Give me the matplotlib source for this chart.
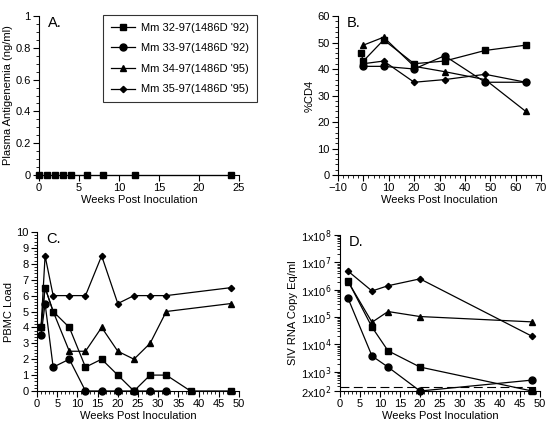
import matplotlib
matplotlib.use("Agg")
import matplotlib.pyplot as plt
from matplotlib.ticker import AutoMinorLocator, MultipleLocator, FixedLocator, NullFormatter

plt.rcParams['font.family'] = ['Liberation Sans', 'DejaVu Sans']
plt.rcParams['font.size'] = 8

names = ["Mm 32-97(1486D '92)", "Mm 33-97(1486D '92)",
         "Mm 34-97(1486D '95)", "Mm 35-97(1486D '95)"]
markers = ['s', 'o', '^', 'D']
msizes = [5, 5, 5, 3.2]

# panel A: plasma antigenemia (only Mm 32-97 drawn)
a_wk = [0, 1, 2, 3, 4, 6, 8, 12, 24]
a_val = [0, 0, 0, 0, 0, 0, 0, 0, 0]

# panel B: %CD4
b_wk = [[-1, 0, 8, 20, 32, 48, 64],
        [0, 8, 20, 32, 48, 64],
        [0, 8, 20, 32, 48, 64],
        [0, 8, 20, 32, 48, 64]]
b_val = [[46, 43, 51, 42, 43, 47, 49],
         [41, 41, 40, 45, 35, 35],
         [49, 52, 41, 39, 36, 24],
         [42, 43, 35, 36, 38, 35]]

# panel C: PBMC load
c_wk = [[1, 2, 4, 8, 12, 16, 20, 24, 28, 32, 38, 48],
        [1, 2, 4, 8, 12, 16, 20, 24, 28, 32],
        [1, 2, 4, 8, 12, 16, 20, 24, 28, 32, 48],
        [1, 2, 4, 8, 12, 16, 20, 24, 28, 32, 48]]
c_val = [[4, 6.5, 5, 4, 1.5, 2, 1, 0, 1, 1, 0, 0],
         [3.5, 5.5, 1.5, 2, 0, 0, 0, 0, 0, 0],
         [4, 6.5, 5, 2.5, 2.5, 4, 2.5, 2, 3, 5, 5.5],
         [4, 8.5, 6, 6, 6, 8.5, 5.5, 6, 6, 6, 6.5]]

# panel D: SIV RNA
d_wk = [2, 8, 12, 20, 48]
d_val = [[2.1e6, 4.3e4, 5.9e3, 1.5e3, 2e2],
         [4.9e5, 3.8e3, 1.5e3, 2e2, 5e2],
         [2.0e6, 6.5e4, 1.6e5, 1.05e5, 6.7e4],
         [4.8e6, 9.0e5, 1.4e6, 2.5e6, 2.0e4]]
d_cutoff = 280

fig = plt.figure(figsize=(5.55, 4.29), dpi=100)
W, H = 555.0, 429.0

def mk_axes(l, t, r, b):
    ax = fig.add_axes([l / W, 1 - b / H, (r - l) / W, (b - t) / H])
    ax.spines['top'].set_visible(False)
    ax.spines['right'].set_visible(False)
    ax.tick_params(direction='out', length=4, width=0.8, pad=2)
    ax.tick_params(which='minor', direction='out', length=2, width=0.6)
    return ax

def draw(ax, x, y, i, label=None):
    ax.plot(x, y, color='black', lw=0.9, marker=markers[i], ms=msizes[i],
            mfc='black', mec='black', clip_on=False, label=label, zorder=3)

axA = mk_axes(39, 16, 239, 175)
axB = mk_axes(338, 16, 541, 175)
axC = mk_axes(37, 232, 239, 391)
axD = mk_axes(340, 235, 540, 391)

# A
draw(axA, a_wk, a_val, 0)
axA.set_xlim(0, 25)
axA.set_ylim(0, 1)
axA.xaxis.set_major_locator(MultipleLocator(5))
axA.set_yticks([0, 0.2, 0.4, 0.6, 0.8, 1])
axA.set_yticklabels(['0', '0.2', '0.4', '0.6', '0.8', '1'])
axA.yaxis.set_minor_locator(AutoMinorLocator(4))
axA.set_xlabel('Weeks Post Inoculation', labelpad=1)
axA.set_ylabel('Plasma Antigenemia (ng/ml)', labelpad=2)

# B
for i in range(4):
    draw(axB, b_wk[i], b_val[i], i)
axB.set_xlim(-10, 70)
axB.set_ylim(0, 60)
axB.xaxis.set_major_locator(MultipleLocator(10))
axB.xaxis.set_minor_locator(AutoMinorLocator(5))
axB.yaxis.set_major_locator(MultipleLocator(10))
axB.yaxis.set_minor_locator(AutoMinorLocator(5))
axB.set_xlabel('Weeks Post Inoculation', labelpad=1)
axB.set_ylabel('%CD4', labelpad=2)

# C
for i in range(4):
    draw(axC, c_wk[i], c_val[i], i)
axC.set_xlim(0, 50)
axC.set_ylim(0, 10)
axC.xaxis.set_major_locator(MultipleLocator(5))
axC.xaxis.set_minor_locator(AutoMinorLocator(5))
axC.yaxis.set_major_locator(MultipleLocator(1))
axC.yaxis.set_minor_locator(AutoMinorLocator(5))
axC.set_xlabel('Weeks Post Inoculation', labelpad=1)
axC.set_ylabel('PBMC Load', labelpad=2)

# D
for i in range(4):
    draw(axD, d_wk, d_val[i], i)
axD.axhline(d_cutoff, color='black', lw=0.8, dashes=(8, 4), zorder=1)
axD.set_yscale('log')
axD.set_xlim(0, 50)
axD.set_ylim(2e2, 1e8)
axD.xaxis.set_major_locator(MultipleLocator(5))
axD.xaxis.set_minor_locator(AutoMinorLocator(5))
yt = [2e2, 1e3, 1e4, 1e5, 1e6, 1e7, 1e8]
axD.yaxis.set_major_locator(FixedLocator(yt))
axD.set_yticklabels(['2x10$^{2}$', '1x10$^{3}$', '1x10$^{4}$', '1x10$^{5}$',
                     '1x10$^{6}$', '1x10$^{7}$', '1x10$^{8}$'])
axD.yaxis.set_minor_formatter(NullFormatter())
axD.set_xlabel('Weeks Post Inoculation', labelpad=1)
axD.set_ylabel('SIV RNA Copy Eq/ml', labelpad=2)

# panel letters
for ax, letter in [(axA, 'A.'), (axB, 'B.'), (axC, 'C.'), (axD, 'D.')]:
    ax.text(0.045, 1.0, letter, transform=ax.transAxes, fontsize=10.5,
            va='top', ha='left')

# legend
handles = [plt.Line2D([], [], color='black', lw=0.9, marker=markers[i],
                      ms=msizes[i], mfc='black', mec='black') for i in range(4)]
leg = fig.legend(handles, names, loc='upper left',
                 bbox_to_anchor=(103 / W, 1 - 15 / H), frameon=True,
                 fancybox=False, edgecolor='black', fontsize=8,
                 handlelength=2.2, labelspacing=0.95, borderpad=0.7,
                 handletextpad=0.5, borderaxespad=0)
leg.get_frame().set_linewidth(0.8)

fig.savefig('out.png', dpi=100)
